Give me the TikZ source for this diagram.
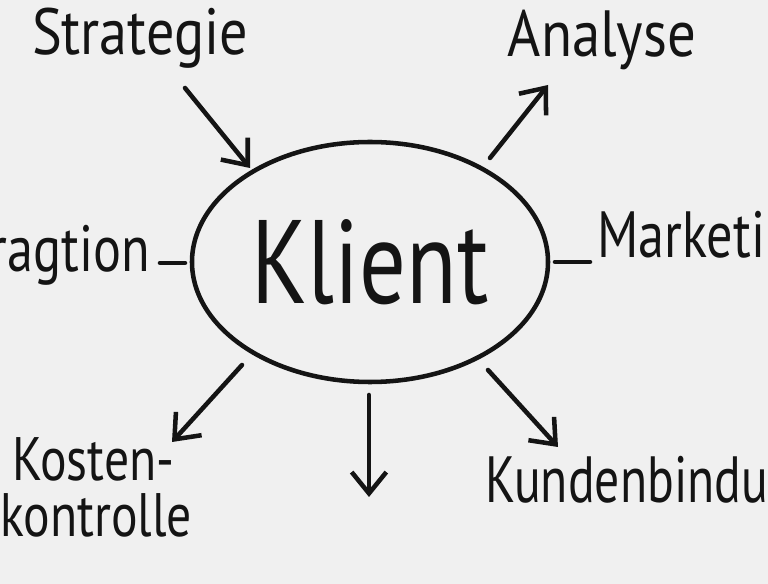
\documentclass[tikz,border=0pt]{standalone}
\usepackage{fontspec}
\setmainfont{PT Sans}
\usetikzlibrary{arrows.meta,shapes.geometric}
\definecolor{paper}{HTML}{F0F0F0}
\definecolor{ink}{HTML}{141414}
\newcommand{\squeeze}[2][0.8]{\scalebox{#1}[1]{#2}}
\tikzset{
    pen/.style={line width=3.4pt, ink, line cap=round, line join=round},
    arr/.style={pen, -{Straight Barb[length=16pt,width=26pt,line width=3.4pt]}},
    word/.style={text=ink, font=\fontsize{49}{53}\selectfont, inner sep=0pt}
}
\begin{document}
\begin{tikzpicture}[x=0.75pt,y=-0.75pt]
    \fill[paper] (0,0) rectangle (768,584);
    \useasboundingbox (0,0) rectangle (768,584);
    % centre
    \node[pen, draw, ellipse, inner sep=0pt, minimum width=267pt, minimum height=180pt,
          text=ink, font=\fontsize{89}{89}\selectfont] (klient) at (370,262) {\squeeze[0.78]{Klient}};
    % labels
    \node[word] (strat) at (140,38) {\squeeze[0.86]{Strategie}};
    \node[word] (anal) at (602,40) {\squeeze[0.87]{Analyse}};
    \node[word, anchor=east] (integ) at (150,255) {\squeeze{ragtion}};
    \node[word, anchor=west] (mark) at (597,235) {\squeeze{Marketi}};
    \node[word, anchor=base west, font=\fontsize{46}{50}\selectfont] (kost) at (12,481) {\squeeze[0.81]{Kosten-}};
    \node[word, anchor=base west, font=\fontsize{46}{50}\selectfont] (kost2) at (0,537) {\squeeze[0.81]{kontrolle}};
    \node[word, anchor=west] (kund) at (485,480) {\squeeze[0.76]{Kundenbindu}};
    % arrows
    \coordinate (s1) at (185,88);  \coordinate (s2) at (250,168);
    \coordinate (a1) at (490,158); \coordinate (a2) at (548,85);
    \coordinate (k1) at (242,365); \coordinate (k2) at (172,442);
    \coordinate (d1) at (369,395); \coordinate (d2) at (369,497);
    \coordinate (b1) at (488,370); \coordinate (b2) at (558,447);
    \draw[arr] (s1) -- (s2);
    \draw[arr] (a1) -- (a2);
    \draw[arr] (k1) -- (k2);
    \draw[arr] (d1) -- (d2);
    \draw[arr] (b1) -- (b2);
    % dashes
    \coordinate (i1) at (160,263); \coordinate (i2) at (185,263);
    \coordinate (m1) at (555,262); \coordinate (m2) at (590,262);
    \draw[pen] (i1) -- (i2);
    \draw[pen] (m1) -- (m2);
\end{tikzpicture}
\end{document}
